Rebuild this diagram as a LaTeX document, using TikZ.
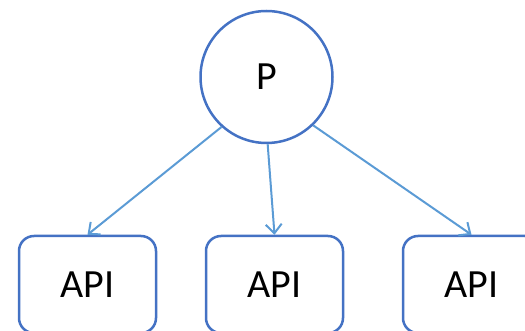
\documentclass[tikz,border=0pt]{standalone}
\usepackage{fontspec}
\setmainfont{Carlito}
\usetikzlibrary{arrows.meta}
\definecolor{nodeblue}{HTML}{4472C4}
\definecolor{arrowblue}{HTML}{5B9BD5}
\tikzset{
  apibox/.style={draw=nodeblue, line width=2.5pt, rounded corners=15pt, minimum width=137pt, minimum height=97pt, inner sep=0pt, font=\fontsize{40}{44}\selectfont},
  pcircle/.style={draw=nodeblue, line width=2.5pt, circle, minimum size=132pt, inner sep=0pt, font=\fontsize{40}{44}\selectfont},
  link/.style={draw=arrowblue, line width=2pt, -{Straight Barb[length=9pt,width=16pt,line width=2pt]}}
}
\begin{document}
\begin{tikzpicture}[x=1pt,y=-1pt]
\useasboundingbox (0,0) rectangle (525,331);
\node[pcircle] (P) at (266.5,77) {P};
\node[apibox] (a1) at (87.5,284.5) {API};
\node[apibox] (a2) at (274.5,284.5) {API};
\node[apibox] (a3) at (471.5,284.5) {API};
\draw[link] (P.228) -- (a1.north);
\draw[link] (P.271) -- (a2.north);
\draw[link] (P.314) -- (a3.north);
\end{tikzpicture}
\end{document}
